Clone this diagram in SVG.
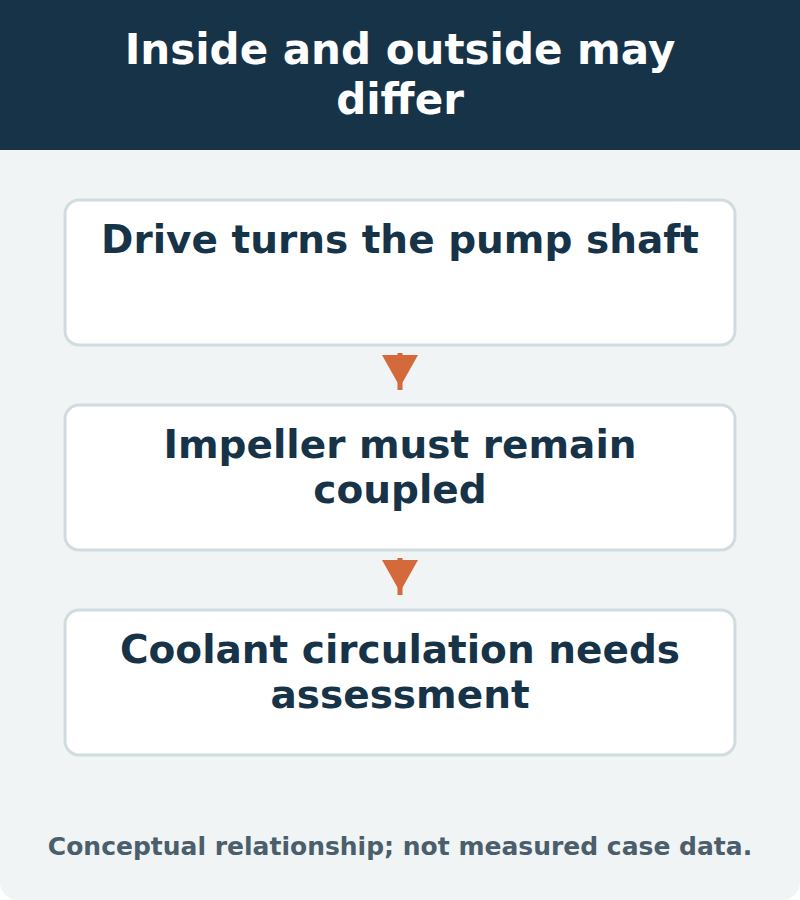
<svg xmlns="http://www.w3.org/2000/svg" width="800" height="900" viewBox="0 0 800 900">
<style>
.t{font-family:"DejaVu Sans",sans-serif;font-weight:bold;text-anchor:middle}
.title{fill:#ffffff;font-size:42px}
.node rect{fill:#ffffff;stroke:#d0dcdf;stroke-width:3}
.node text{fill:#163348;font-size:39px}
.foot{fill:#4a5f6b;font-size:25px}
.arr line{stroke:#d4693c;stroke-width:5}
.arr polygon{fill:#d4693c}
</style>
<rect x="0" y="0" width="800" height="900" fill="#ffffff"/>
<rect x="0" y="0" width="800" height="900" rx="18" fill="#f0f4f5"/>
<rect x="0" y="0" width="800" height="150" fill="#163348"/>
<g id="title">
<text class="t title" x="400" y="64">Inside and outside may</text>
<text class="t title" x="400" y="114">differ</text>
</g>
<g id="node1" class="node">
<rect x="65" y="200" width="670" height="145" rx="14"/>
<text class="t" x="400" y="253">Drive turns the pump shaft</text>
</g>
<g id="node2" class="node">
<rect x="65" y="405" width="670" height="145" rx="14"/>
<text class="t" x="400" y="458">Impeller must remain</text>
<text class="t" x="400" y="503">coupled</text>
</g>
<g id="node3" class="node">
<rect x="65" y="610" width="670" height="145" rx="14"/>
<text class="t" x="400" y="663">Coolant circulation needs</text>
<text class="t" x="400" y="708">assessment</text>
</g>
<g id="connectors" class="arr">
<line x1="400" y1="353" x2="400" y2="390"/>
<polygon points="382,355 418,355 400,387"/>
<line x1="400" y1="558" x2="400" y2="595"/>
<polygon points="382,560 418,560 400,592"/>
</g>
<text class="t foot" x="400" y="855">Conceptual relationship; not measured case data.</text>
</svg>
